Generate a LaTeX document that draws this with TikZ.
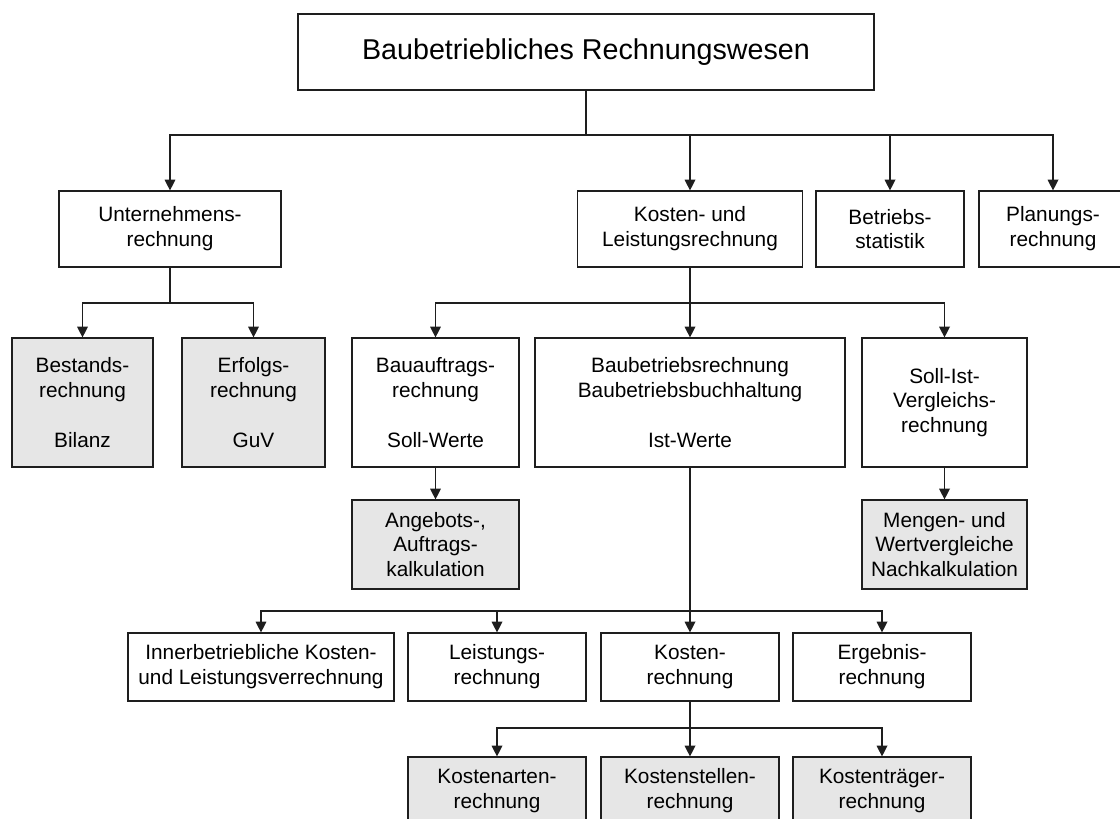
\documentclass[tikz,border=0pt]{standalone}
\usepackage{fontspec}
\setmainfont{Liberation Sans}
\usetikzlibrary{arrows.meta}
\definecolor{boxgray}{HTML}{E6E6E6}
\definecolor{ink}{HTML}{1E1E1E}
\tikzset{
  bx/.style 2 args={draw=ink, line width=0.9pt, fill=white,
    minimum width=#1*0.75pt, minimum height=#2*0.75pt,
    inner sep=0pt, align=center, text=black,
    font=\fontsize{15.6}{18.6}\selectfont},
  graybox/.style={fill=boxgray},
  titlefont/.style={font=\fontsize{21.5}{26}\selectfont},
  link/.style={draw=ink, line width=0.9pt},
  arr/.style={link, -{Triangle[length=8pt,width=8pt]}},
}
\begin{document}
\begin{tikzpicture}[x=0.75pt, y=-0.75pt]
\useasboundingbox (0,0) rectangle (1120,818);
\clip (0,0) rectangle (1120,818);

% top level
\node[bx={576}{76}, titlefont] (root) at (586,52) {Baubetriebliches Rechnungswesen};

% second level
\node[bx={222}{76}] (unt)  at (170,229)  {Unternehmens-\\rechnung};
\node[bx={225}{76}] (klr)  at (690,229)  {Kosten- und\\Leistungsrechnung};
\node[bx={148}{76}] (bst)  at (890,229)  {Betriebs-\\statistik};
\node[bx={148}{76}] (plan) at (1053,229) {Planungs-\\rechnung};

% third level
\node[bx={141}{129}, graybox] (bes) at (82.5,402.5)  {Bestands-\\rechnung\\[18.5pt]Bilanz};
\node[bx={143}{129}, graybox] (erf) at (253.5,402.5) {Erfolgs-\\rechnung\\[18.5pt]GuV};
\node[bx={167}{129}] (bau) at (435.5,402.5) {Bauauftrags-\\rechnung\\[18.5pt]Soll-Werte};
\node[bx={310}{129}] (bbr) at (690,402.5)   {Baubetriebsrechnung\\Baubetriebsbuchhaltung\\[18.5pt]Ist-Werte};
\node[bx={165}{129}] (sik) at (944.5,402.5) {Soll-Ist-\\Vergleichs-\\rechnung};

% calculation boxes
\node[bx={167}{89}, graybox] (ang) at (435.5,544.5) {Angebots-,\\Auftrags-\\kalkulation};
\node[bx={165}{89}, graybox] (men) at (944.5,544.5) {Mengen- und\\Wertvergleiche\\Nachkalkulation};

% fourth level
\node[bx={266}{68}] (inn) at (261,667) {Innerbetriebliche Kosten-\\und Leistungsverrechnung};
\node[bx={178}{68}] (lei) at (497,667) {Leistungs-\\rechnung};
\node[bx={178}{68}] (kos) at (690,667) {Kosten-\\rechnung};
\node[bx={178}{68}] (erg) at (882,667) {Ergebnis-\\rechnung};

% fifth level
\node[bx={178}{68}, graybox] (kar) at (497,791) {Kostenarten-\\rechnung};
\node[bx={178}{68}, graybox] (kst) at (690,791) {Kostenstellen-\\rechnung};
\node[bx={178}{68}, graybox] (ktr) at (882,791) {Kostenträger-\\rechnung};

% junctions of the branch lines
\coordinate (j0) at (586,135);
\coordinate (j1) at (170,303);
\coordinate (j2) at (690,303);
\coordinate (j3) at (690,611);
\coordinate (j4) at (690,728);

% connectors
\draw[link] (root.south) -- (j0);
\foreach \c in {unt,klr,bst,plan} \draw[arr] (j0) -| (\c.north);

\draw[link] (unt.south) -- (j1);
\foreach \c in {bes,erf} \draw[arr] (j1) -| (\c.north);

\draw[link] (klr.south) -- (j2);
\foreach \c in {bau,bbr,sik} \draw[arr] (j2) -| (\c.north);

\draw[arr] (bau.south) -- (ang.north);
\draw[arr] (sik.south) -- (men.north);

\draw[link] (bbr.south) -- (j3);
\foreach \c in {inn,lei,kos,erg} \draw[arr] (j3) -| (\c.north);

\draw[link] (kos.south) -- (j4);
\foreach \c in {kar,kst,ktr} \draw[arr] (j4) -| (\c.north);
\end{tikzpicture}
\end{document}
